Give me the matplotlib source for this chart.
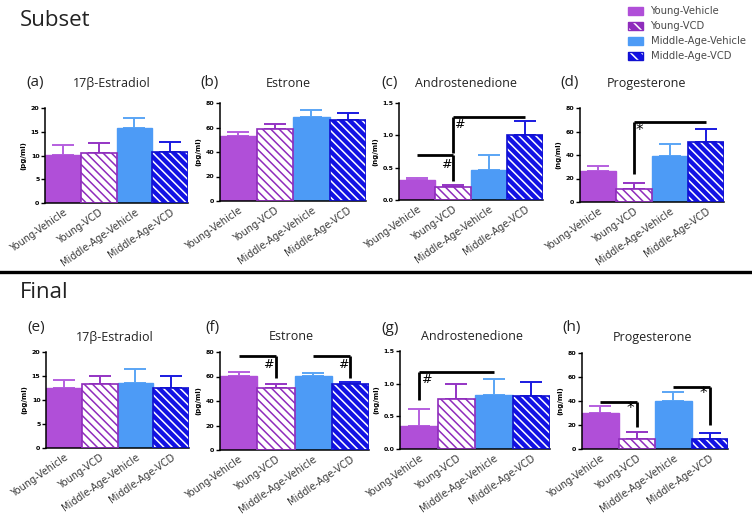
import matplotlib
matplotlib.use("Agg")
import matplotlib.pyplot as plt
from matplotlib.patches import Patch
from matplotlib.legend_handler import HandlerTuple

W, H = 752, 516

groups = ['Young-Vehicle', 'Young-VCD', 'Middle-Age-Vehicle', 'Middle-Age-VCD']

subset_e2 = [10.2, 10.6, 15.8, 10.8]
subset_e2_err = [2.0, 2.1, 2.2, 2.1]
subset_e1 = [53.4, 58.6, 68.8, 65.8]
subset_e1_err = [3.3, 3.9, 5.4, 5.7]
subset_a4 = [0.31, 0.20, 0.47, 1.00]
subset_a4_err = [0.035, 0.03, 0.22, 0.22]
subset_p4 = [26.0, 11.3, 38.9, 51.0]
subset_p4_err = [5.0, 5.1, 10.7, 11.0]

final_e2 = [12.55, 13.3, 13.6, 12.55]
final_e2_err = [1.55, 1.7, 2.8, 2.35]
final_e1 = [60.4, 50.8, 60.1, 53.8]
final_e1_err = [3.6, 3.3, 2.5, 1.7]
final_a4 = [0.35, 0.77, 0.83, 0.81]
final_a4_err = [0.26, 0.23, 0.24, 0.21]
final_p4 = [30.4, 8.1, 40.1, 8.1]
final_p4_err = [5.5, 6.1, 7.0, 5.5]

titles = ['17β-Estradiol', 'Estrone', 'Androstenedione', 'Progesterone']
letters_top = ['(a)', '(b)', '(c)', '(d)']
letters_bot = ['(e)', '(f)', '(g)', '(h)']
units = ['(pg/ml)', '(pg/ml)', '(ng/ml)', '(ng/ml)']
yticks = [[0, 5, 10, 15, 20], [0, 20, 40, 60, 80], [0.0, 0.5, 1.0, 1.5], [0, 20, 40, 60, 80]]
yticklabels = [['0', '5', '10', '15', '20'], ['0', '20', '40', '60', '80'],
               ['0.0', '0.5', '1.0', '1.5'], ['0', '20', '40', '60', '80']]

# significance brackets: (x_left, x_right, y_h, drop_side, y_drop, symbol, sym_x, sym_y)
brackets_top = {
    2: [(0.0, 1.0, 0.70, 'right', 0.30, '#', 0.80, 0.55),
        (1.0, 3.0, 1.28, 'left', 0.72, '#', 1.18, 1.16)],
    3: [(1.0, 3.0, 68, 'left', 24, '*', 1.15, 61)],
}
brackets_bot = {
    1: [(0.0, 1.0, 77, 'right', 59, '#', 0.8, 70),
        (2.0, 3.0, 77, 'right', 59, '#', 2.8, 70)],
    2: [(0.0, 2.0, 1.18, 'left', 0.75, '#', 0.2, 1.07)],
    3: [(0.0, 1.0, 39.5, 'right', 18, '*', 0.82, 34),
        (2.0, 3.0, 52, 'right', 20, '*', 2.82, 46)],
}

face = ['#b04fd8', 'white', '#4d9bf6', '#1212e4']
edge = ['#b04fd8', '#8f2cbc', '#4d9bf6', '#1010d0']
hatch_col = [None, '#8f2cbc', None, 'white']
err_col = ['#b65fdf', '#9434c4', '#5aa5f5', '#1a1ae0']
hatches = [None, '\\\\\\\\', None, '\\\\\\\\']

plt.rcParams['hatch.linewidth'] = 1.1

fig = plt.figure(figsize=(W / 100, H / 100), dpi=100)

# pixel boxes: x0, x1, top, zero
boxes_top = [(45, 188, 108, 203), (220, 366, 103, 201), (399, 543, 103, 200), (580, 724, 108, 202)]
boxes_bot = [(46, 189, 352, 448), (220, 369, 352, 450), (400, 550, 351, 449), (582, 728, 353, 449)]

title_font = ['Open Sans', 'DejaVu Sans']


def add_ax(box):
    x0, x1, top, zero = box
    return fig.add_axes([x0 / W, 1 - zero / H, (x1 - x0) / W, (zero - top) / H])


def draw_panel(ax, vals, errs, k, brackets):
    x = list(range(len(groups)))
    for i in x:
        if hatches[i] is None:
            ax.bar(i, vals[i], width=1.0, color=face[i], edgecolor=edge[i], linewidth=1.0, zorder=2)
        else:
            ax.bar(i, vals[i], width=1.0, color=face[i], edgecolor=hatch_col[i], hatch=hatches[i],
                   linewidth=0, zorder=2)
            ax.bar(i, vals[i], width=1.0, fill=False, edgecolor=edge[i], linewidth=1.2, zorder=3)
        ax.errorbar(i, vals[i], yerr=[[0], [errs[i]]], fmt='none', ecolor=err_col[i],
                    elinewidth=1.4, capsize=8, capthick=1.4, zorder=1)
    ax.set_xlim(-0.5, 3.5)
    ax.set_ylim(yticks[k][0], yticks[k][-1])
    ax.set_yticks(yticks[k])
    ax.set_yticklabels(yticklabels[k], fontsize=4.5, fontweight='bold')
    ax.set_xticks(x)
    ax.set_xticklabels(groups, rotation=35, ha='right', rotation_mode='anchor',
                       fontsize=7, color='#3a3a3a')
    ax.tick_params(axis='x', length=0, pad=3)
    ax.tick_params(axis='y', length=3, width=1.0, pad=1)
    for s in ['top', 'right']:
        ax.spines[s].set_visible(False)
    for s in ['left', 'bottom']:
        ax.spines[s].set_linewidth(1.1)
    ax.set_ylabel(units[k], fontsize=5, fontweight='bold', labelpad=3)
    for (xl, xr, yh, side, yd, sym, sx, sy) in brackets:
        ax.plot([xl, xr], [yh, yh], color='black', lw=2.0, solid_capstyle='butt', zorder=5)
        xv = xr if side == 'right' else xl
        ax.plot([xv, xv], [yh, yd], color='black', lw=2.0, solid_capstyle='butt', zorder=5)
        ax.text(sx, sy, sym, ha='center', va='center', fontsize=9 if sym == '#' else 11,
                color='black', zorder=6)


top_vals = [(subset_e2, subset_e2_err), (subset_e1, subset_e1_err),
            (subset_a4, subset_a4_err), (subset_p4, subset_p4_err)]
bot_vals = [(final_e2, final_e2_err), (final_e1, final_e1_err),
            (final_a4, final_a4_err), (final_p4, final_p4_err)]

for k in range(4):
    ax = add_ax(boxes_top[k])
    draw_panel(ax, top_vals[k][0], top_vals[k][1], k, brackets_top.get(k, []))
    x0, x1, top, zero = boxes_top[k]
    fig.text((x0 - 1) / W, 1 - 82 / H, letters_top[k], fontsize=11, family=title_font,
             ha='right', va='center', color='#222222')
    fig.text(((x0 + x1) / 2 - 5) / W, 1 - 83 / H, titles[k], fontsize=9, family=title_font,
             ha='center', va='center', color='#222222')

for k in range(4):
    ax = add_ax(boxes_bot[k])
    draw_panel(ax, bot_vals[k][0], bot_vals[k][1], k, brackets_bot.get(k, []))
    x0, x1, top, zero = boxes_bot[k]
    fig.text((x0 - 1) / W, 1 - 328 / H, letters_bot[k], fontsize=11, family=title_font,
             ha='right', va='center', color='#222222')
    fig.text(((x0 + x1) / 2 - 3) / W, 1 - 337 / H, titles[k], fontsize=9, family=title_font,
             ha='center', va='center', color='#222222')

fig.text(20 / W, 1 - 20 / H, 'Subset', fontsize=16, family=title_font, ha='left', va='center',
         color='#222222')
fig.text(20 / W, 1 - 292 / H, 'Final', fontsize=16, family=title_font, ha='left', va='center',
         color='#222222')

fig.add_artist(plt.Line2D([0, 1], [1 - 272 / H, 1 - 272 / H], transform=fig.transFigure,
                          color='black', lw=2.4))

handles = [
    Patch(facecolor=face[0], edgecolor=face[0]),
    (Patch(facecolor=edge[1], edgecolor='white', hatch='\\\\\\', linewidth=0),
     Patch(fill=False, edgecolor=edge[1], linewidth=1.0)),
    Patch(facecolor=face[2], edgecolor=face[2]),
    (Patch(facecolor=face[3], edgecolor='white', hatch='\\\\\\', linewidth=0),
     Patch(fill=False, edgecolor=edge[3], linewidth=1.0)),
]
fig.legend(handles, groups, loc='upper left', bbox_to_anchor=(628 / W, 1 - 6 / H),
           frameon=False, fontsize=7.2, handlelength=1.5, handleheight=0.85,
           labelspacing=0.5, handletextpad=0.75, labelcolor='#4a4a4a',
           borderpad=0, borderaxespad=0,
           handler_map={tuple: HandlerTuple(ndivide=1, pad=0)})

fig.savefig('out.png', dpi=100)
